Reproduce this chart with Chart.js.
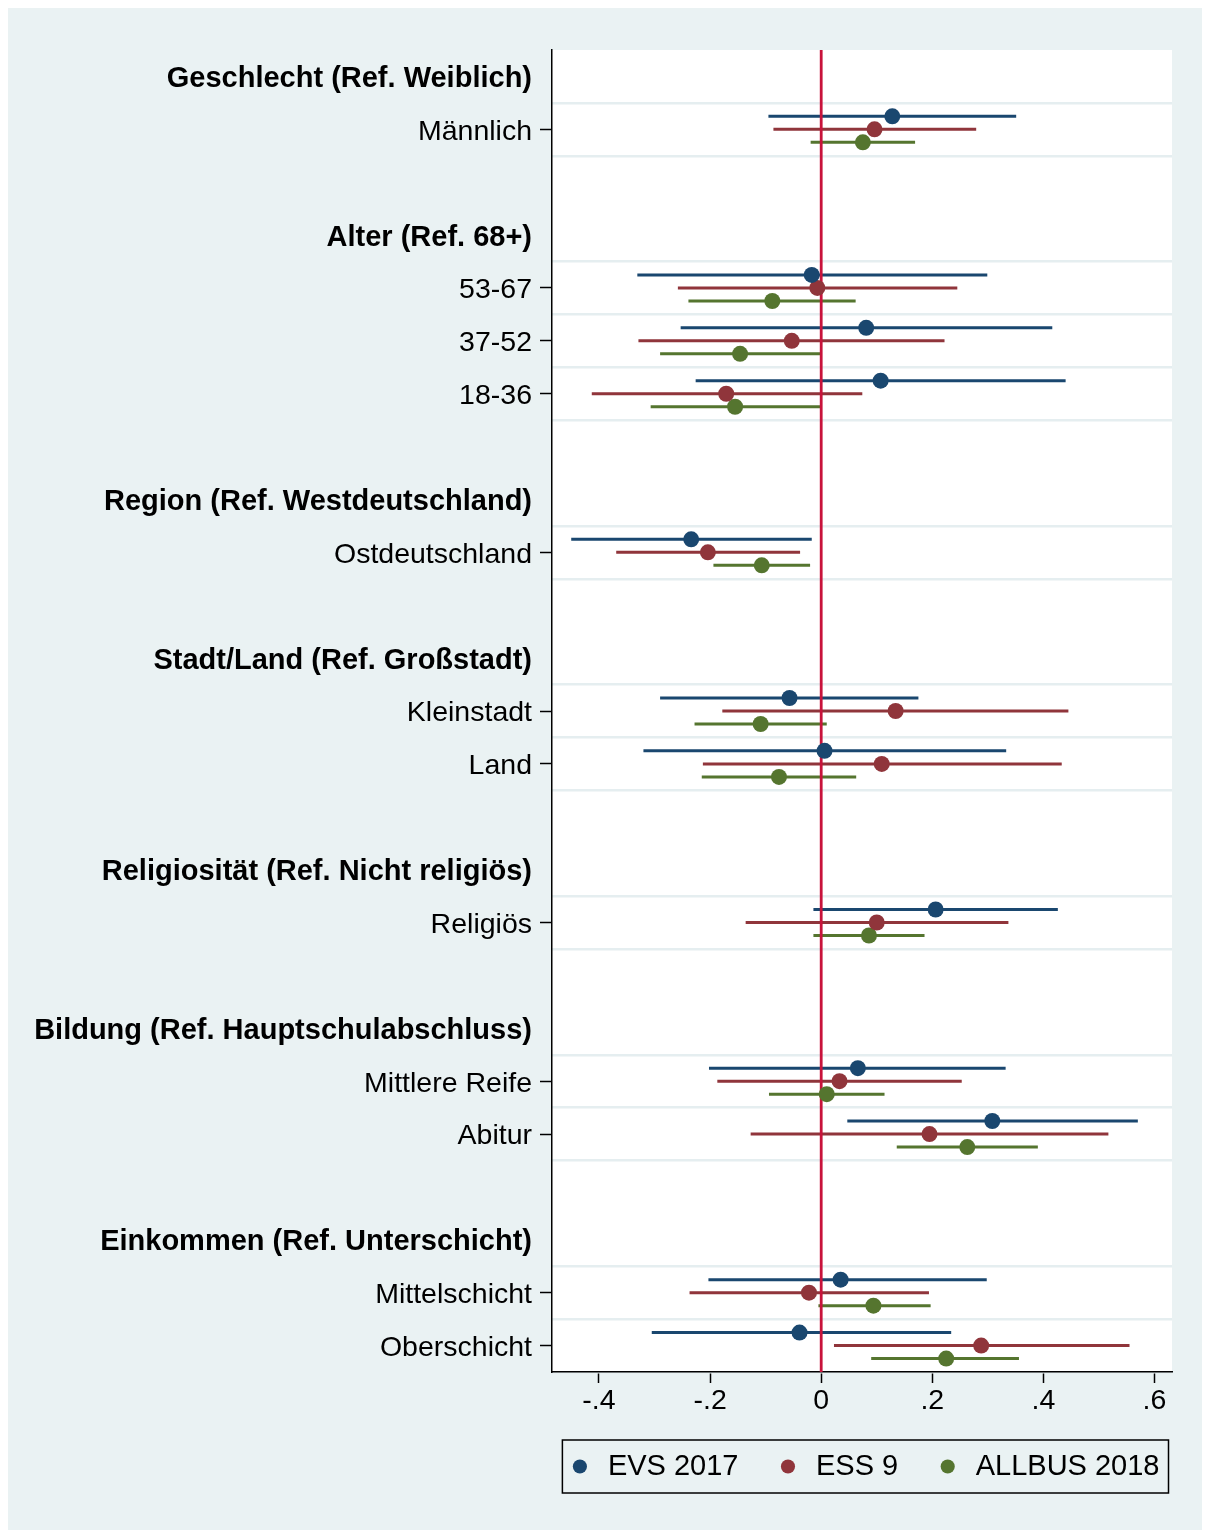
<!DOCTYPE html>
<html>
<head>
<meta charset="utf-8">
<script src="https://cdn.jsdelivr.net/npm/chart.js@4.4.1/dist/chart.umd.min.js"></script>
<style>
  html, body { margin: 0; padding: 0; background: #ffffff; }
  #frame { position: absolute; left: 8px; top: 8px; width: 1194px; height: 1522px; background: #eaf2f3; }
  #wrap { position: absolute; left: 0; top: 0; width: 1210px; height: 1539px; }
</style>
</head>
<body>
<div id="frame"></div>
<div id="wrap"><canvas id="c" width="1210" height="1539"></canvas></div>
<script>
// Row layout of the coefficient plot (top to bottom); '' marks an empty spacer row
const rowLabels = [
  'Geschlecht (Ref. Weiblich)', 'Männlich', '',
  'Alter (Ref. 68+)', '53-67', '37-52', '18-36', '',
  'Region (Ref. Westdeutschland)', 'Ostdeutschland', '',
  'Stadt/Land (Ref. Großstadt)', 'Kleinstadt', 'Land', '',
  'Religiosität (Ref. Nicht religiös)', 'Religiös', '',
  'Bildung (Ref. Hauptschulabschluss)', 'Mittlere Reife', 'Abitur', '',
  'Einkommen (Ref. Unterschicht)', 'Mittelschicht', 'Oberschicht'
];
const headerRows = [0, 3, 8, 11, 15, 18, 22];
const termRows = [1, 4, 5, 6, 9, 12, 13, 16, 19, 20, 23, 24];

const seriesNames = ['EVS 2017', 'ESS 9', 'ALLBUS 2018'];

// Estimates and 95% confidence bounds, one entry per term row
const evsEst = [0.128, -0.017, 0.081, 0.107, -0.234, -0.057, 0.006, 0.206, 0.066, 0.308, 0.035, -0.039];
const evsLo  = [-0.095, -0.331, -0.253, -0.226, -0.450, -0.290, -0.320, -0.014, -0.202, 0.047, -0.203, -0.305];
const evsHi  = [0.351, 0.299, 0.416, 0.440, -0.017, 0.175, 0.333, 0.426, 0.332, 0.570, 0.298, 0.234];

const essEst = [0.096, -0.007, -0.053, -0.171, -0.204, 0.134, 0.109, 0.100, 0.033, 0.195, -0.022, 0.288];
const essLo  = [-0.086, -0.258, -0.329, -0.413, -0.369, -0.178, -0.213, -0.136, -0.187, -0.127, -0.237, 0.023];
const essHi  = [0.279, 0.245, 0.222, 0.074, -0.038, 0.445, 0.433, 0.337, 0.253, 0.517, 0.194, 0.555];

const allbusEst = [0.075, -0.088, -0.146, -0.155, -0.107, -0.109, -0.076, 0.086, 0.010, 0.263, 0.094, 0.225];
const allbusLo  = [-0.019, -0.239, -0.290, -0.307, -0.194, -0.228, -0.215, -0.014, -0.094, 0.136, -0.005, 0.090];
const allbusHi  = [0.169, 0.062, 0.000, 0.000, -0.020, 0.010, 0.063, 0.186, 0.114, 0.390, 0.197, 0.356];

const xTicks = [-0.4, -0.2, 0, 0.2, 0.4, 0.6];
const refValue = 0;

// ---- styling ----
const seriesColors = ['#1a476f', '#90353b', '#55752f'];
const rowOffsets = [-0.246, 0, 0.246];
const refColor = '#c8133b';
const gridColor = '#e5eef0';
const FONT = '"Liberation Sans", Arial, Helvetica, sans-serif';
const yMin = -0.5, yMax = rowLabels.length - 0.5;

const series = [
  { est: evsEst, lo: evsLo, hi: evsHi },
  { est: essEst, lo: essLo, hi: essHi },
  { est: allbusEst, lo: allbusLo, hi: allbusHi }
];

const datasets = [];
// point estimates (these also feed the legend)
series.forEach((s, k) => {
  datasets.push({
    label: seriesNames[k],
    kind: 'point',
    data: s.est.map((v, i) => ({ x: v, y: termRows[i] + rowOffsets[k] })),
    backgroundColor: seriesColors[k],
    borderColor: seriesColors[k],
    borderWidth: 0,
    pointRadius: 8,
    pointHoverRadius: 8,
    showLine: false,
    order: k
  });
});
// confidence-interval segments, separated by gaps
series.forEach((s, k) => {
  const pts = [];
  s.lo.forEach((lo, i) => {
    const y = termRows[i] + rowOffsets[k];
    pts.push({ x: lo, y: y }, { x: s.hi[i], y: y }, { x: NaN, y: NaN });
  });
  datasets.push({
    label: seriesNames[k] + ' CI',
    kind: 'ci',
    data: pts,
    borderColor: seriesColors[k],
    borderWidth: 3,
    pointRadius: 0,
    showLine: true,
    spanGaps: false,
    order: 20 + k
  });
});
// vertical reference line at zero
datasets.push({
  label: 'ref',
  kind: 'ref',
  data: [{ x: refValue, y: yMin }, { x: refValue, y: yMax }],
  borderColor: refColor,
  borderWidth: 2.8,
  pointRadius: 0,
  showLine: true,
  order: 10
});

const halfLines = [];
termRows.forEach(r => { halfLines.push(r - 0.5, r + 0.5); });
const gridRows = Array.from(new Set(halfLines)).sort((a, b) => a - b);

const plotBackground = {
  id: 'plotBackground',
  beforeDraw(chart) {
    const { ctx, chartArea: a } = chart;
    ctx.save();
    ctx.fillStyle = '#ffffff';
    ctx.fillRect(a.left, a.top, a.right - a.left, a.bottom - a.top);
    ctx.restore();
  }
};

const legendFrame = {
  id: 'legendFrame',
  afterDraw(chart) {
    const hb = chart.legend && chart.legend.legendHitBoxes;
    if (!hb || !hb.length) return;
    const left = Math.min(...hb.map(h => h.left)) - 4;
    const right = Math.max(...hb.map(h => h.left + h.width)) + 9;
    const cy = hb[0].top + hb[0].height / 2;
    const ctx = chart.ctx;
    ctx.save();
    ctx.strokeStyle = '#000000';
    ctx.lineWidth = 1.5;
    ctx.strokeRect(left, cy - 26.5, right - left, 53);
    ctx.restore();
  }
};

const fmtX = v => {
  if (Math.abs(v) < 1e-9) return '0';
  const s = Math.abs(v).toFixed(1).replace(/^0/, '');
  return (v < 0 ? '-' : '') + s;
};

new Chart(document.getElementById('c'), {
  type: 'scatter',
  data: { datasets },
  plugins: [plotBackground, legendFrame],
  options: {
    responsive: false,
    animation: false,
    events: [],
    layout: { padding: { left: 0, top: 50, right: 14.5, bottom: 48 } },
    scales: {
      x: {
        type: 'linear',
        min: -0.4846,
        max: 0.6315,
        afterBuildTicks: s => { s.ticks = xTicks.map(v => ({ value: v })); },
        afterFit: s => { s.height = 44; },
        ticks: {
          callback: v => fmtX(v),
          color: '#000000',
          font: { family: FONT, size: 28.5 },
          padding: 1,
          autoSkip: false,
          maxRotation: 0
        },
        grid: { drawOnChartArea: false, drawTicks: true, tickLength: 11, tickColor: '#000000', tickWidth: 1.5 },
        border: { display: true, color: '#000000', width: 1.5 }
      },
      y: {
        type: 'linear',
        position: 'left',
        reverse: true,
        min: yMin,
        max: yMax,
        afterBuildTicks: s => {
          s.ticks = rowLabels.map((t, i) => ({ value: i })).filter(t => rowLabels[t.value] !== '');
        },
        afterFit: s => { s.width = 552; },
        ticks: {
          callback: v => rowLabels[v],
          color: '#000000',
          font: ctx => headerRows.includes(ctx.tick && ctx.tick.value)
            ? { family: FONT, size: 29, weight: 'bold' }
            : { family: FONT, size: 28.5 },
          padding: 8,
          labelOffset: 2.5,
          autoSkip: false
        },
        grid: {
          drawOnChartArea: false,
          drawTicks: true,
          tickLength: 12,
          tickWidth: 1.5,
          tickColor: ctx => headerRows.includes(ctx.tick && ctx.tick.value) ? 'rgba(0,0,0,0)' : '#000000'
        },
        border: { display: true, color: '#000000', width: 1.5 }
      },
      yGrid: {
        type: 'linear',
        position: 'right',
        reverse: true,
        min: yMin,
        max: yMax,
        afterBuildTicks: s => { s.ticks = gridRows.map(v => ({ value: v })); },
        afterFit: s => { s.width = 23.5; },
        ticks: { display: false },
        grid: { drawOnChartArea: true, drawTicks: false, color: gridColor, lineWidth: 2.4 },
        border: { display: false }
      }
    },
    plugins: {
      tooltip: { enabled: false },
      legend: {
        position: 'bottom',
        fullSize: true,
        align: 'end',
        labels: {
          usePointStyle: true,
          pointStyle: 'circle',
          boxWidth: 27,
          boxHeight: 10,
          padding: 36,
          color: '#000000',
          font: { family: FONT, size: 29 },
          filter: (item, data) => data.datasets[item.datasetIndex].kind === 'point'
        }
      }
    }
  }
});
</script>
</body>
</html>
